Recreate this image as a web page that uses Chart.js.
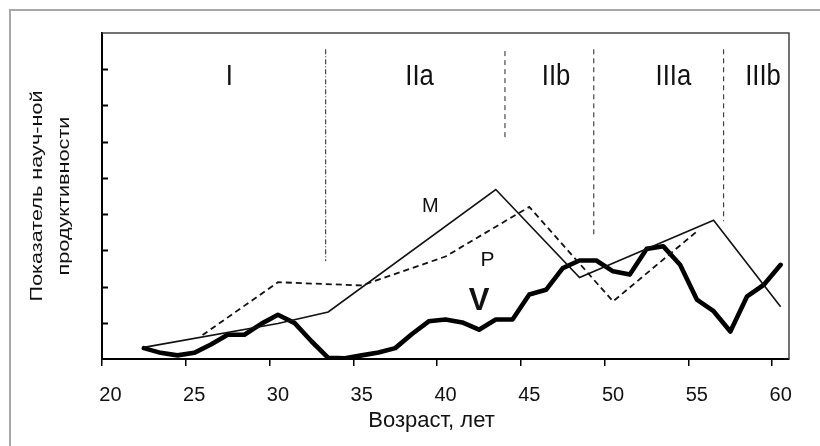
<!DOCTYPE html>
<html><head><meta charset="utf-8">
<script src="https://cdn.jsdelivr.net/npm/chart.js@4.4.1/dist/chart.umd.min.js"></script>
<style>html,body{margin:0;padding:0;background:#fff}canvas{display:block}</style>
</head><body>
<canvas id="c" width="820" height="446"></canvas>
<script>
// ---- data ----
const xTickLabels = ['20','25','30','35','40','45','50','55','60'];
const vAges   = [22,23,24,25,26,27,28,29,30,31,32,33,34,35,36,37,38,39,40,41,42,43,44,45,46,47,48,49,50,51,52,53,54,55,56,57,58,59,60];
const vValues = [0.30,0.17,0.10,0.17,0.40,0.67,0.67,0.97,1.22,0.99,0.49,0.03,0.02,0.10,0.18,0.30,0.69,1.04,1.09,1.01,0.81,1.09,1.09,1.78,1.91,2.51,2.72,2.72,2.42,2.33,3.04,3.11,2.60,1.64,1.32,0.76,1.73,2.05,2.60];
const mAges   = [22,30,33,43,48,56,60];
const mValues = [0.32,0.98,1.30,4.68,2.25,3.83,1.44];
const pAges   = [25.5,30,35,40,45,50,55];
const pValues = [0.66,2.12,2.03,2.83,4.20,1.59,3.52];
const phaseBoundaryAges   = [32.85,43.55,48.85,56.6];
const phaseBoundaryTop    = [8.55,8.50,8.55,8.55];
const phaseBoundaryBottom = [2.70,6.04,3.41,3.80];
const phaseNames = ['I','IIa','IIb','IIIa','IIIb'];
const seriesNames = ['M','P','V'];
const yTitleLines = ['Показатель науч-ной','продуктивности'];
const xTitle = 'Возраст, лет';

// label anchors (age, value)
const phaseLabelAt = [[27.1,7.8],[38.45,7.8],[46.6,7.8],[53.6,7.8],[58.95,7.8]];
const seriesLabelAt = [[39.1,4.2],[42.5,2.72],[42.0,1.58]];

const pts = (xs, ys) => xs.map((a, i) => ({x: a, y: ys[i]}));
const FONT = "'Liberation Sans', Arial, sans-serif";

const datasets = [
  {data: pts(mAges, mValues), borderColor: '#111', borderWidth: 1.6, pointRadius: 0, tension: 0},
  {data: pts(pAges, pValues), borderColor: '#111', borderWidth: 1.8, borderDash: [6,4], pointRadius: 0, tension: 0},
  {data: pts(vAges, vValues), borderColor: '#000', borderWidth: 4.6, pointRadius: 0, tension: 0, borderJoinStyle: 'round', borderCapStyle: 'round'}
];
phaseBoundaryAges.forEach((a, i) => {
  datasets.push({
    data: [{x: a, y: phaseBoundaryTop[i]}, {x: a, y: phaseBoundaryBottom[i]}],
    borderColor: '#222', borderWidth: 1,
    borderDash: i === 0 ? [5,2,1,2] : [5,4],
    pointRadius: 0
  });
});

const decor = {
  id: 'decor',
  beforeDraw(chart) {
    const ctx = chart.ctx;
    ctx.save();
    ctx.fillStyle = '#fff';
    ctx.fillRect(0, 0, chart.width, chart.height);
    ctx.strokeStyle = '#a8a8a8';
    ctx.lineWidth = 2;
    ctx.beginPath();
    ctx.moveTo(10, chart.height); ctx.lineTo(10, 10); ctx.lineTo(chart.width, 10);
    ctx.stroke();
    ctx.restore();
  },
  afterDraw(chart) {
    const {ctx, chartArea: a, scales: {x, y}} = chart;
    ctx.save();
    ctx.strokeStyle = '#444';
    ctx.lineWidth = 1.5;
    ctx.beginPath();
    ctx.moveTo(a.left, a.top); ctx.lineTo(a.right, a.top); ctx.lineTo(a.right, a.bottom);
    ctx.stroke();
    // inward y tick marks
    ctx.strokeStyle = '#000';
    ctx.lineWidth = 2;
    y.ticks.forEach(t => {
      if (t.value > y.min && t.value < y.max) {
        const py = Math.round(y.getPixelForValue(t.value)) + 0.5;
        ctx.beginPath(); ctx.moveTo(a.left, py); ctx.lineTo(a.left + 6, py); ctx.stroke();
      }
    });
    // phase labels
    ctx.fillStyle = '#111';
    ctx.textAlign = 'center';
    ctx.textBaseline = 'middle';
    ctx.font = '27px ' + FONT;
    phaseNames.forEach((n, i) => {
      ctx.save();
      ctx.translate(x.getPixelForValue(phaseLabelAt[i][0]), y.getPixelForValue(phaseLabelAt[i][1]));
      ctx.scale(0.95, 1.1);
      ctx.fillText(n, 0, 0);
      ctx.restore();
    });
    // series labels
    const sFonts = ['20px ' + FONT, '21px ' + FONT, 'bold 31px ' + FONT];
    seriesNames.forEach((n, i) => {
      ctx.font = sFonts[i];
      ctx.fillText(n, x.getPixelForValue(seriesLabelAt[i][0]), y.getPixelForValue(seriesLabelAt[i][1]));
    });
    // x title
    ctx.font = '22px ' + FONT;
    ctx.fillText(xTitle, (a.left + a.right) / 2 - 14, 421);
    // y title (rotated, two lines)
    ctx.font = '17px ' + FONT;
    const cy = (a.top + a.bottom) / 2;
    const w0 = ctx.measureText(yTitleLines[0]).width;
    const sx = 211 / w0;
    [37, 64].forEach((cx, i) => {
      ctx.save();
      ctx.translate(cx, cy);
      ctx.rotate(-Math.PI / 2);
      ctx.scale(sx, 1);
      ctx.fillText(yTitleLines[i], 0, 0);
      ctx.restore();
    });
    ctx.restore();
  }
};

new Chart(document.getElementById('c'), {
  type: 'line',
  data: {datasets},
  options: {
    responsive: false,
    animation: false,
    events: [],
    layout: {padding: {left: 0, top: 33, right: 31, bottom: 0}},
    plugins: {legend: {display: false}, tooltip: {enabled: false}},
    scales: {
      x: {
        type: 'linear', min: 19.5, max: 60.5,
        afterBuildTicks: s => { s.ticks = xTickLabels.map(l => ({value: Number(l) - 0.5})); },
        afterFit: s => { s.height = 87; },
        ticks: {
          autoSkip: false, maxRotation: 0,
          callback: (v, i) => xTickLabels[i],
          labelOffset: 8.4, padding: 17,
          color: '#111', font: {family: FONT, size: 20}
        },
        grid: {drawOnChartArea: false, drawTicks: true, tickLength: 7, color: '#000', lineWidth: 1.5},
        border: {display: true, color: '#000', width: 2},
        title: {display: false}
      },
      y: {
        type: 'linear', min: 0, max: 9,
        afterFit: s => { s.width = 102; },
        ticks: {display: false, stepSize: 1},
        grid: {drawOnChartArea: false, drawTicks: false},
        border: {display: true, color: '#000', width: 2}
      }
    }
  },
  plugins: [decor]
});
</script>
</body></html>
